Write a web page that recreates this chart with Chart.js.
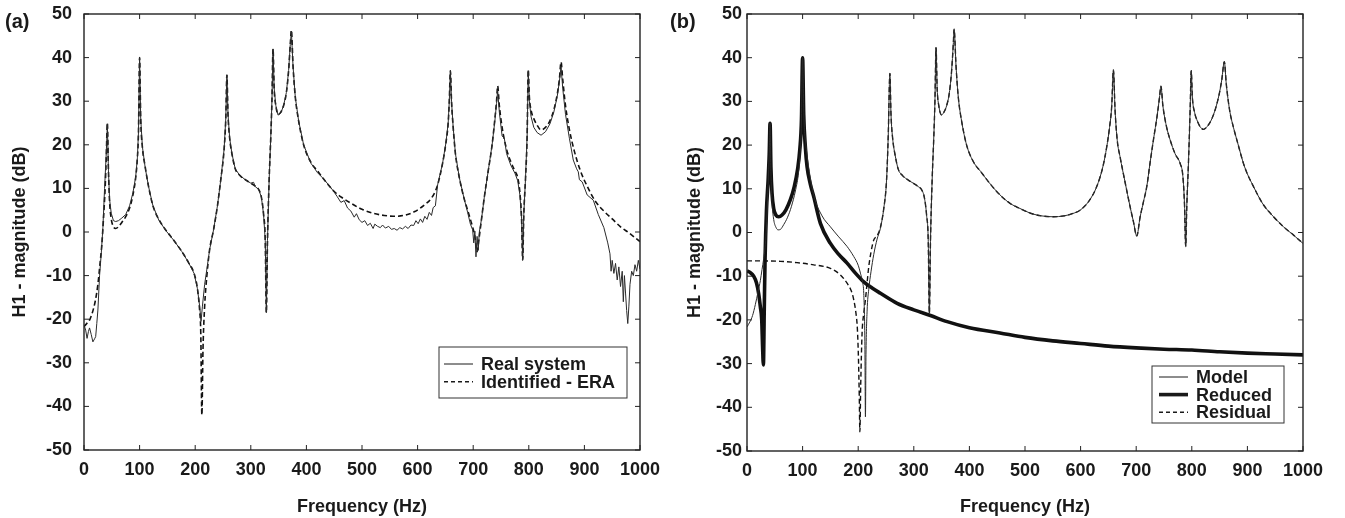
<!DOCTYPE html>
<html>
<head>
<meta charset="utf-8">
<script src="https://cdn.jsdelivr.net/npm/chart.js@4.4.1/dist/chart.umd.min.js"></script>
<style>
  body { margin: 0; background: #fff; }
  #page { position: relative; width: 1345px; height: 518px; overflow: hidden; }
  .wrap { position: absolute; top: 0; height: 518px; }
  .tag { position: absolute; top: 10px; font: bold 20px "Liberation Sans", Arial, sans-serif; color: #1a1a1a; }
</style>
</head>
<body>
<div id="page">
  <div class="wrap" style="left:0;width:670px"><canvas id="chartA"></canvas></div>
  <div class="wrap" style="left:663px;width:682px"><canvas id="chartB"></canvas></div>
  <div class="tag" style="left:5px">(a)</div>
  <div class="tag" style="left:670px">(b)</div>
</div>
<script>
// axis ticks
const freqTicks = [0, 100, 200, 300, 400, 500, 600, 700, 800, 900, 1000];
const magTicks = [-50, -40, -30, -20, -10, 0, 10, 20, 30, 40, 50];

// (a) identified - ERA (dashed)
const eraFreq = [0, 5, 10, 15, 20, 25, 29, 32, 35, 38, 40, 42, 44, 46, 49, 53, 57, 62, 68, 75, 82, 88, 93, 96, 98, 100, 102, 105, 110, 116, 124, 135, 148, 162, 176, 188, 198, 204, 208, 210, 212, 214, 217, 221, 226, 233, 240, 246, 252, 255, 257, 259, 262, 266, 272, 280, 290, 300, 308, 314, 319, 323, 326, 328, 330, 333, 336, 338, 340, 342, 345, 349, 354, 359, 364, 368, 371, 373, 376, 380, 386, 395, 408, 420, 435, 450, 465, 480, 500, 520, 540, 556, 575, 595, 612, 625, 635, 645, 651, 655, 657, 659, 661, 664, 668, 675, 683, 690, 697, 703, 707, 710, 714, 720, 727, 734, 739, 742, 744, 747, 752, 760, 768, 775, 780, 784, 787, 789, 791, 794, 797, 799, 801, 804, 809, 815, 822, 830, 838, 845, 851, 855, 858, 861, 866, 873, 882, 893, 905, 920, 935, 950, 965, 980, 1000];
const eraMag = [-21.7, -21, -20.2, -18.5, -16, -12, -7, -3, 3, 10, 17, 25, 14, 7, 3, 1.2, 0.8, 1.2, 2.2, 3.5, 5.5, 8.5, 12.5, 17, 23, 40, 26, 19.5, 15, 10.5, 6, 2.8, 0.3, -2, -4.5, -7, -9.5, -13, -18, -23, -42, -27, -17, -10, -4, 0.5, 6, 12, 19, 26, 36, 27, 21.5, 18, 14.5, 13, 12, 11.2, 10.5, 9.8, 8, 4, -2, -18.5, -2, 12, 22, 30, 42, 33, 29, 27, 27.5, 29, 32, 37, 43, 46.3, 38, 31, 25.5, 20, 16, 14, 11.5, 9.3, 7.8, 6.6, 5.2, 4.3, 3.8, 3.6, 3.8, 4.7, 6.2, 7.8, 10.4, 15.8, 20.5, 25, 30, 37, 30, 24, 18, 12.5, 8, 5, 2, -1, -4.5, -2, 2, 8, 14, 20, 26, 30, 33.5, 29, 24, 19, 16, 14, 12.5, 9, 3, -6.4, 4, 12, 22, 37.2, 31, 28, 26, 24.5, 23.4, 24, 25.5, 28, 31.5, 35, 39, 35, 29, 23.5, 18.5, 14, 10.5, 7, 4.8, 3, 1.2, -0.2, -2.2];

// (a) real system (thin solid, measured)
const realFreq = [0, 3, 5.5, 8, 10, 13, 16, 19, 21, 23, 25, 28, 31, 34, 37, 40, 42, 44, 46, 49, 53, 57, 62, 68, 75, 82, 88, 93, 96, 98, 100, 102, 105, 110, 116, 124, 135, 148, 162, 176, 188, 198, 204, 208, 210.5, 213, 217, 221, 226, 233, 240, 246, 252, 255, 257, 259, 262, 266, 272, 280, 290, 300, 305, 308, 314, 319, 323, 326, 328, 330, 333, 336, 338, 340, 342, 345, 349, 354, 359, 364, 368, 371, 373, 376, 380, 386, 395, 408, 420, 430, 440, 448, 455, 462, 468, 474, 480, 486, 490, 495, 500, 505, 510, 515, 520, 523, 528, 533, 537, 542, 548, 553, 558, 563, 568, 573, 578, 583, 588, 593, 597, 601, 605, 609, 613, 617, 621, 625, 628, 632, 636, 645, 651, 655, 657, 659, 661, 664, 668, 675, 683, 690, 695, 699, 701, 703, 705, 707, 709, 711, 715, 720, 727, 734, 739, 742, 744, 747, 752, 756, 760, 768, 775, 780, 784, 787, 789, 791, 794, 797, 799, 801, 804, 809, 815, 822, 830, 838, 845, 851, 855, 858, 861, 866, 873, 880, 886, 889, 891, 896, 905, 916, 925, 935, 942, 946, 948, 950, 953, 956, 959, 962, 965, 968, 970, 972, 974, 976, 978, 980, 982, 985, 988, 991, 994, 997, 1000];
const realMag = [-21.3, -22.5, -24.4, -22.8, -22, -23.5, -25.2, -24.5, -24, -21, -17.9, -10, -5, 1, 10, 18, 24.8, 14, 7.5, 4.3, 2.6, 2.4, 2.6, 3.2, 4, 6, 9, 12.7, 17, 23, 40, 26, 19.6, 14.8, 10.5, 6, 2.6, 0.2, -2, -4.5, -7, -9.5, -13, -17, -20.5, -17, -12, -8.5, -4, 0.5, 6, 12, 19, 26, 36, 27, 21.5, 18, 14.5, 13, 12, 11.2, 11.4, 10.4, 9.8, 8, 4, -2, -18.5, -2, 12, 22, 30, 42, 33, 29, 26.8, 27.3, 29, 32, 37, 43, 46, 38, 31, 25.5, 20, 15.8, 13.6, 12.3, 10.8, 9.5, 8.2, 6.8, 7.2, 5.5, 4.8, 3.4, 4.2, 2.8, 2.2, 2.6, 1.5, 2, 0.8, 1.8, 1.3, 1, 1.6, 0.9, 1.3, 0.6, 0.8, 0.4, 1, 0.7, 1.3, 0.8, 1.6, 1.5, 2.6, 1.9, 3, 2.2, 3.6, 2.9, 4.5, 3.8, 5.6, 6, 10.8, 15.8, 20.5, 25, 30, 37, 30, 24, 18, 12.5, 8, 4.5, 1.8, 0.5, -2.5, 0.2, -5.7, -1, -4.2, 0, 3, 8, 14, 20, 25.5, 29.5, 32.5, 27.5, 22, 21.5, 18, 15.2, 13.5, 11.8, 8.5, 3, -6.4, 4, 12, 22, 37, 30, 26.5, 24, 22.8, 22.2, 23, 24.8, 27.5, 31, 34.5, 38, 33, 27, 21.5, 16.5, 14.5, 13.8, 12, 11.5, 8.5, 7.3, 4, 1, -2.5, -5, -9, -6.5, -9.5, -7.2, -11, -8, -12.5, -9, -16, -10, -14, -18, -21, -17, -12, -9, -10, -7.5, -9, -6.5, -8.5];

// (b) model (thin solid)
const modelFreq = [0, 5, 10, 15, 20, 24, 27, 30, 32, 34, 36, 38, 40, 41.5, 43, 45, 48, 52, 56, 60, 66, 73, 80, 87, 92, 95, 97.5, 100, 102.5, 106, 112, 120, 135, 150, 165, 180, 192, 200, 204, 208, 210, 212, 213, 214, 216, 219, 223, 228, 234, 240, 246, 251, 254, 257, 259, 262, 266, 272, 280, 290, 300, 308, 314, 319, 323, 326, 328, 330, 333, 336, 338, 340, 342, 345, 350, 354, 359, 364, 368, 371, 372.5, 376, 380, 386, 395, 408, 420, 435, 455, 475, 491, 510, 530, 551, 570, 585, 599, 615, 629, 640, 647, 652, 656, 659, 662, 666, 671, 680, 689, 695, 701, 707, 713, 719, 725, 731, 738, 742, 744.5, 748, 754, 761, 770, 779, 784, 787, 789, 791, 794, 797, 799, 801, 805, 810, 815, 821, 828, 836, 843, 849, 854, 858.5, 862, 868, 875, 881, 895, 911, 928, 947, 965, 983, 1000];
const modelMag = [-21.6, -20.5, -19, -16.5, -13.5, -11, -8.5, -6, -4, -1, 4, 11, 18, 25, 14, 7, 3, 1.2, 0.6, 0.7, 1.8, 3.5, 6, 9.5, 13, 17, 23, 40, 26, 20, 14, 8.5, 3.8, 1.3, -1, -3.2, -5.5, -7.5, -9.3, -11.5, -14, -25, -42.2, -28, -18, -13, -9, -5, -1.5, 1, 5.5, 12, 22, 36.4, 27, 21.5, 18, 14.5, 13, 12, 11.2, 10.5, 9.8, 8, 4, -2, -18.5, -2, 12, 22, 30, 42.3, 33, 29, 26.9, 27.5, 29, 32, 37, 43, 46.5, 38, 31, 25.5, 20, 16, 14, 11.5, 8.6, 6.5, 5.5, 4.4, 3.8, 3.6, 3.8, 4.3, 5.1, 7.2, 10.5, 15, 19.6, 24, 29, 37.2, 28, 21, 17.3, 11.5, 5.9, 2.5, -0.8, 3.5, 7, 10.5, 16, 21.2, 27, 31, 33.5, 29, 24.5, 21.2, 18, 15.8, 12.8, 6, -3.2, 6, 16, 28, 37, 31, 27.5, 25.5, 24.2, 23.6, 24.3, 26, 28.5, 31.5, 35, 39.1, 34, 28, 24, 21.2, 15, 10.5, 6.5, 3.6, 1.3, -0.6, -2.5];

// (b) reduced (thick solid)
const reducedFreq = [0, 6, 12, 17, 21, 24, 26.5, 28, 29.5, 31, 32.5, 35, 38, 40, 41.5, 43, 45, 48, 52, 57, 63, 70, 78, 85, 91, 95, 98, 100, 102, 105, 108, 114, 120, 132, 150, 165, 180, 195, 210, 225, 240, 270, 300, 330, 360, 400, 455, 500, 550, 600, 650, 700, 750, 800, 850, 900, 950, 1000];
const reducedMag = [-8.8, -9.2, -10, -11.5, -14, -17, -20, -26, -30.3, -18, -6, 5, 12, 18, 25, 15, 9, 5.5, 4, 3.6, 4, 5.2, 7.5, 10.5, 14.5, 19, 26, 40, 27, 19.5, 15.1, 11, 8.2, 2.1, -2.5, -5, -7, -9.3, -11.3, -12.7, -13.9, -16.2, -17.7, -19, -20.4, -21.8, -23, -24, -24.8, -25.4, -26, -26.4, -26.7, -26.9, -27.3, -27.6, -27.8, -28];

// (b) residual (dashed) below 250 Hz; above that it lies on the model curve
const residualLowFreq = [0, 30, 60, 90, 120, 150, 168, 180, 188, 192, 196, 198.5, 200.5, 202, 203, 204.5, 207, 210, 213, 216, 219, 223, 228, 234, 240, 246];
const residualLowMag = [-6.5, -6.5, -6.6, -6.9, -7.4, -8.2, -9.7, -11.6, -13.5, -15.4, -18.5, -22, -29, -38, -45.6, -35, -23, -18.5, -15.4, -11.5, -7.8, -4.5, -1.7, -0.8, 1.2, 5.5];

const ink = "#1a1a1a";
const FONT = "'Liberation Sans', Arial, Helvetica, sans-serif";

function pts(fs, ms) {
	return fs.map((f, i) => ({ x: f, y: ms[i] }));
}

const residualPts = pts(residualLowFreq, residualLowMag).concat(
	pts(modelFreq, modelMag).filter((p) => p.x >= 251)
);

// box round the plot with inward ticks on every side
const framePlugin = {
	id: "frame",
	afterDatasetsDraw(chart) {
		const { ctx, chartArea: a, scales } = chart;
		const tl = 5;
		ctx.save();
		ctx.strokeStyle = "#222";
		ctx.lineWidth = 1.4;
		ctx.strokeRect(a.left, a.top, a.right - a.left, a.bottom - a.top);
		ctx.lineWidth = 1;
		ctx.beginPath();
		freqTicks.forEach((v) => {
			const px = scales.x.getPixelForValue(v);
			ctx.moveTo(px, a.bottom);
			ctx.lineTo(px, a.bottom - tl);
			ctx.moveTo(px, a.top);
			ctx.lineTo(px, a.top + tl);
		});
		magTicks.forEach((v) => {
			const py = scales.y.getPixelForValue(v);
			ctx.moveTo(a.left, py);
			ctx.lineTo(a.left + tl, py);
			ctx.moveTo(a.right, py);
			ctx.lineTo(a.right - tl, py);
		});
		ctx.stroke();
		ctx.restore();
	},
};

// legend drawn as a framed box inside the plot
const boxLegend = {
	id: "boxLegend",
	afterDraw(chart, args, opts) {
		const { ctx, chartArea: a } = chart;
		const left = a.right - opts.gapRight - opts.width;
		const top = a.bottom - opts.gapBottom - opts.height;
		ctx.save();
		ctx.fillStyle = "#fff";
		ctx.fillRect(left, top, opts.width, opts.height);
		ctx.strokeStyle = "#333";
		ctx.lineWidth = 1;
		ctx.strokeRect(left, top, opts.width, opts.height);
		ctx.font = "bold 18px " + FONT;
		ctx.textBaseline = "middle";
		ctx.textAlign = "left";
		opts.items.forEach((it, i) => {
			const y = top + opts.firstRow + i * opts.rowStep;
			ctx.beginPath();
			ctx.strokeStyle = ink;
			ctx.lineWidth = it.width;
			ctx.setLineDash(it.dash || []);
			ctx.moveTo(left + opts.lineFrom, y);
			ctx.lineTo(left + opts.lineTo, y);
			ctx.stroke();
			ctx.setLineDash([]);
			ctx.fillStyle = ink;
			ctx.fillText(it.label, left + opts.textAt, y + 1);
		});
		ctx.restore();
	},
};

function makeOptions(p) {
	return {
		responsive: true,
		maintainAspectRatio: false,
		animation: false,
		layout: { padding: { top: 14, right: p.padRight, left: 0, bottom: 0 } },
		plugins: {
			legend: { display: false },
			tooltip: { enabled: false },
			boxLegend: p.legend,
		},
		elements: { point: { radius: 0 } },
		scales: {
			x: {
				type: "linear",
				min: 0,
				max: 1000,
				afterFit: (s) => {
					s.height = p.xHeight;
					s.paddingLeft = 0;
					s.paddingRight = 0;
				},
				grid: { display: false, drawTicks: false },
				border: { display: false },
				ticks: {
					stepSize: 100,
					autoSkip: false,
					maxRotation: 0,
					padding: 9,
					color: ink,
					callback: (v) => String(v),
					font: { family: FONT, size: 18, weight: "bold" },
				},
				title: {
					display: true,
					text: "Frequency (Hz)",
					color: ink,
					padding: { top: 6, bottom: 0 },
					font: { family: FONT, size: 18, weight: "bold" },
				},
			},
			y: {
				min: -50,
				max: 50,
				afterFit: (s) => {
					s.width = 84;
					s.paddingTop = 0;
					s.paddingBottom = 0;
				},
				grid: { display: false, drawTicks: false },
				border: { display: false },
				ticks: {
					stepSize: 10,
					autoSkip: false,
					padding: p.yTickPad,
					color: ink,
					callback: (v) => String(v),
					font: { family: FONT, size: 18, weight: "bold" },
				},
				title: {
					display: true,
					text: "H1 - magnitude (dB)",
					color: ink,
					padding: { top: p.yTitlePad, bottom: 0 },
					font: { family: FONT, size: 18, weight: "bold" },
				},
			},
		},
	};
}

new Chart(document.getElementById("chartA"), {
	type: "line",
	data: {
		datasets: [
			{
				label: "Real system",
				data: pts(realFreq, realMag),
				borderColor: "#2a2a2a",
				borderWidth: 1,
				tension: 0,
			},
			{
				label: "Identified - ERA",
				data: pts(eraFreq, eraMag),
				borderColor: "#111",
				borderWidth: 1.6,
				borderDash: [5, 3],
				cubicInterpolationMode: "monotone",
			},
		],
	},
	options: makeOptions({
		padRight: 30,
		xHeight: 68,
		yTickPad: 12,
		yTitlePad: 9,
		legend: {
			gapRight: 13, gapBottom: 52, width: 188, height: 51,
			firstRow: 17, rowStep: 17.7, lineFrom: 5, lineTo: 34, textAt: 42,
			items: [
				{ label: "Real system", width: 1 },
				{ label: "Identified - ERA", width: 1.6, dash: [4, 3] },
			],
		},
	}),
	plugins: [framePlugin, boxLegend],
});

new Chart(document.getElementById("chartB"), {
	type: "line",
	data: {
		datasets: [
			{
				label: "Model",
				data: pts(modelFreq, modelMag),
				borderColor: "#2a2a2a",
				borderWidth: 1,
				cubicInterpolationMode: "monotone",
			},
			{
				label: "Residual",
				data: residualPts,
				borderColor: "#111",
				borderWidth: 1.4,
				borderDash: [5, 3],
				cubicInterpolationMode: "monotone",
			},
			{
				label: "Reduced",
				data: pts(reducedFreq, reducedMag),
				borderColor: "#111",
				borderWidth: 3.6,
				cubicInterpolationMode: "monotone",
			},
		],
	},
	options: makeOptions({
		padRight: 42,
		xHeight: 67,
		yTickPad: 5,
		yTitlePad: 21,
		legend: {
			gapRight: 19, gapBottom: 28, width: 132, height: 57,
			firstRow: 11, rowStep: 17.6, lineFrom: 7, lineTo: 36, textAt: 44,
			items: [
				{ label: "Model", width: 1 },
				{ label: "Reduced", width: 3.6 },
				{ label: "Residual", width: 1.4, dash: [4, 3] },
			],
		},
	}),
	plugins: [framePlugin, boxLegend],
});
</script>
</body>
</html>
